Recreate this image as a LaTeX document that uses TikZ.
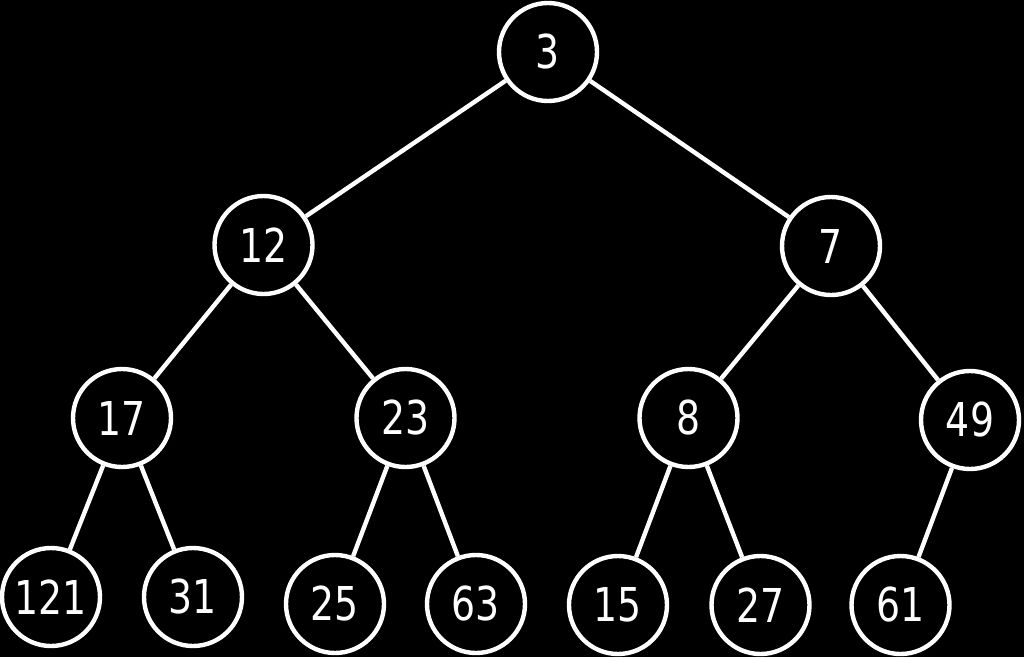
\documentclass[tikz,border=0pt]{standalone}
\usepackage{fontspec}
\setmainfont[FakeStretch=0.9]{DejaVu Sans Condensed}
\begin{document}
\begin{tikzpicture}[x=0.75pt,y=-0.75pt,
  heapnode/.style={circle,draw=white,fill=black,line width=3.3pt,minimum size=73.5pt,inner sep=0pt,text=white,font=\fontsize{35}{40}\selectfont},
  edge/.style={draw=white,line width=3.3pt}]
\fill[black] (0,0) rectangle (1024,657);
\useasboundingbox (0,0) rectangle (1024,657);
\node[heapnode] (n3) at (548,52) {3};
\node[heapnode] (n12) at (263.5,245) {12};
\node[heapnode] (n7) at (831,246) {7};
\node[heapnode] (n17) at (122,418) {17};
\node[heapnode] (n23) at (405.5,418) {23};
\node[heapnode] (n8) at (688.5,418) {8};
\node[heapnode] (n49) at (970,420) {49};
\node[heapnode] (n121) at (51,597) {121};
\node[heapnode] (n31) at (193,597) {31};
\node[heapnode] (n25) at (335,604) {25};
\node[heapnode] (n63) at (476,604) {63};
\node[heapnode] (n15) at (618,605) {15};
\node[heapnode] (n27) at (760.5,605) {27};
\node[heapnode] (n61) at (900.5,605) {61};
\draw[edge] (n3) -- (n12);
\draw[edge] (n3) -- (n7);
\draw[edge] (n12) -- (n17);
\draw[edge] (n12) -- (n23);
\draw[edge] (n7) -- (n8);
\draw[edge] (n7) -- (n49);
\draw[edge] (n17) -- (n121);
\draw[edge] (n17) -- (n31);
\draw[edge] (n23) -- (n25);
\draw[edge] (n23) -- (n63);
\draw[edge] (n8) -- (n15);
\draw[edge] (n8) -- (n27);
\draw[edge] (n49) -- (n61);
\end{tikzpicture}
\end{document}
